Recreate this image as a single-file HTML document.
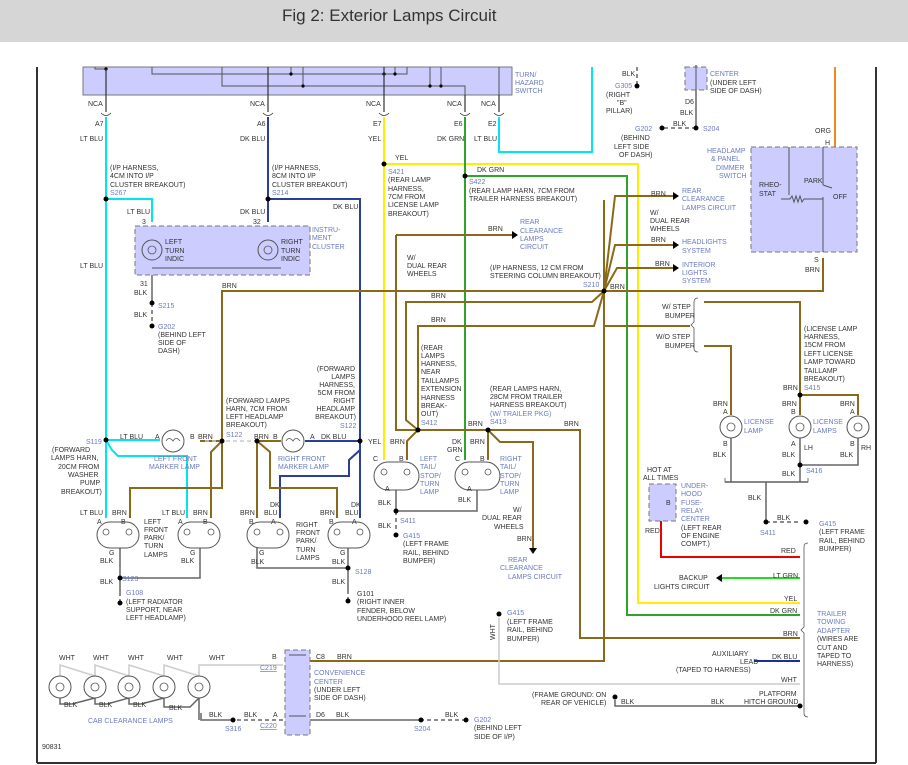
<!DOCTYPE html>
<html><head><meta charset="utf-8"><style>
html,body{margin:0;padding:0;background:#fff}
svg{display:block}
text{font-family:"Liberation Sans",sans-serif;font-size:7px;fill:#333}
.b{fill:#6a7bc0}
.u{fill:#6a7bc0;text-decoration:underline}
.r{text-anchor:end}
</style></head><body>
<svg width="908" height="765" viewBox="0 0 908 765" xmlns="http://www.w3.org/2000/svg">
<rect x="0" y="0" width="908" height="42" fill="#d6d6d6"/>
<text x="282" y="21" style="font-size:17px;fill:#333">Fig 2: Exterior Lamps Circuit</text>
<g stroke="#333" stroke-width="2" fill="none">
<line x1="37" y1="67" x2="37" y2="763"/>
<line x1="37" y1="763" x2="876" y2="763"/>
<line x1="876" y1="67" x2="876" y2="763"/>
</g>
<rect x="83" y="67" width="429" height="28" fill="#ccccff" stroke="#777" stroke-width="1"/>
<g stroke="#555" stroke-width="1" fill="none">
<polyline points="95,67 95,69 106,69"/>
<polyline points="152,67 152,74 407,74 407,67"/>
<polyline points="222,67 222,86 465,86 465,95"/>
<line x1="291" y1="67" x2="291" y2="74"/><line x1="303" y1="67" x2="303" y2="86"/>
<line x1="430" y1="67" x2="430" y2="86"/><line x1="441" y1="67" x2="441" y2="86"/>
<line x1="395" y1="67" x2="395" y2="74"/>
<line x1="499" y1="67" x2="499" y2="95"/>
</g>
<g fill="#000"><circle cx="106" cy="69" r="1.6"/><circle cx="291" cy="74" r="1.6"/><circle cx="384" cy="74" r="1.6"/><circle cx="395" cy="74" r="1.6"/><circle cx="303" cy="86" r="1.6"/><circle cx="430" cy="86" r="1.6"/><circle cx="441" cy="86" r="1.6"/></g>
<text x="515" y="77" class="b">TURN/</text><text x="515" y="85" class="b">HAZARD</text><text x="515" y="93" class="b">SWITCH</text>
<g stroke="#333" stroke-width="1.2">
<line x1="106" y1="69" x2="106" y2="112"/><line x1="268" y1="67" x2="268" y2="112"/><line x1="384" y1="67" x2="384" y2="112"/><line x1="465" y1="95" x2="465" y2="112"/><line x1="499" y1="95" x2="499" y2="112"/>
</g>
<g>
<text x="88" y="106">NCA</text><text x="250" y="106">NCA</text><text x="366" y="106">NCA</text><text x="447" y="106">NCA</text><text x="481" y="106">NCA</text>
<text x="95" y="126">A7</text><text x="257" y="126">A6</text><text x="373" y="126">E7</text><text x="454" y="126">E6</text><text x="488" y="126">E2</text>
<text x="80" y="141">LT BLU</text><text x="240" y="141">DK BLU</text><text x="368" y="141">YEL</text><text x="437" y="141">DK GRN</text><text x="474" y="141">LT BLU</text>
</g>
<g fill="none" stroke="#333" stroke-width="0.8">
<path d="M101,113 Q106,118 111,113"/><path d="M263,113 Q268,118 273,113"/><path d="M379,113 Q384,118 389,113"/><path d="M460,113 Q465,118 470,113"/><path d="M494,113 Q499,118 504,113"/>
</g>
<g fill="none" stroke-width="2">
<polyline stroke="#00e5ee" points="106,117 106,440 112,450 118,456 187,456 187,518"/>
<polyline stroke="#00e5ee" points="106,199 152,199 152,222"/>
<polyline stroke="#00e5ee" points="106,440 160,440"/>
<polyline stroke="#00e5ee" points="106,440 106,518"/>
<polyline stroke="#00e5ee" points="499,117 499,152 592,152 592,67"/>
<polyline stroke="#2a3f9a" points="268,117 268,222"/>
<polyline stroke="#2a3f9a" points="268,199 360,199 360,518"/>
<polyline stroke="#2a3f9a" points="305,441 360,441"/>
<polyline stroke="#2a3f9a" points="360,441 360,450 349,460 349,476 280,476 280,518"/>
<polyline stroke="#ffee00" points="384,117 384,460"/>
<polyline stroke="#ffee00" points="384,164 638,164 638,603 800,603"/>
<polyline stroke="#2da52d" points="465,117 465,460"/>
<polyline stroke="#2da52d" points="465,176 627,176 627,615 800,615"/>
<polyline stroke="#e00" points="661,502 661,557 800,557"/>
<polyline stroke="#22dd22" points="720,578 800,578"/>
<polyline stroke="#1a2f9a" points="754,661 800,661"/>
<polyline stroke="#f08a20" points="835,67 835,147"/>
</g>
<g fill="none" stroke="#8a6a1a" stroke-width="2">
<polyline points="823,258 823,291 222,291 222,488 130,488 130,518"/>
<polyline points="222,441 211,452 211,518"/>
<polyline points="200,441 222,441"/>
<polyline points="604,291 592,302 406,302 406,420 418,430"/>
<polyline points="604,291 594,326 418,326 418,430"/>
<polyline points="690,326 604,326"/>
<polyline points="604,200 604,661 310,661"/>
<polyline points="604,291 615,196 673,196"/>
<polyline points="604,291 615,245 673,245"/>
<polyline points="604,291 617,268 673,268"/>
<polyline points="396,235 512,235"/>
<polyline points="396,235 396,430 580,430 580,638 800,638"/>
<polyline points="418,430 407,441 407,460"/>
<polyline points="488,430 488,460"/>
<polyline points="488,430 500,442 533,442 533,548"/>
<polyline points="704,302 800,302 800,415"/>
<polyline points="704,346 731,346 731,415"/>
<polyline points="800,395 858,395 858,415"/>
<polyline points="257,441 257,518"/>
<polyline points="257,441 270,452 270,488 337,488 337,518"/>
<polyline points="257,441 281,441"/>
</g>
<g fill="#000">
<polygon points="673,192 679,196 673,200"/><polygon points="673,241 679,245 673,249"/><polygon points="673,264 679,268 673,272"/>
<polygon points="512,231 518,235 512,239"/><polygon points="529,548 533,554 537,548"/>
<polygon points="716,578 722,574 722,582"/>
</g>
<g fill="none" stroke="#666" stroke-width="1.5">
<polyline points="152,265 152,303"/>
<polyline points="120,548 120,578 200,578 200,548"/>
<polyline points="257,548 257,568 348,568 348,548"/>
<polyline points="348,568 348,590"/>
<polyline points="120,578 120,592"/>
<polyline points="396,490 396,511 477,511 477,490"/>
<polyline points="731,438 731,482"/><polyline points="858,438 858,465 800,465 800,438"/>
<polyline points="800,465 800,482"/>
<polyline points="725,482 808,482"/>
<polyline points="766,482 766,522"/>
<polyline points="615,700 615,706 800,706"/>
<polyline points="201,713 201,720 230,720"/>
<polyline points="310,720 420,720"/>
<polyline points="696,65 696,122 696,128"/>
</g>
<g fill="none" stroke="#666" stroke-width="1.5" stroke-dasharray="4,3">
<line x1="152" y1="303" x2="152" y2="322"/>
<line x1="120" y1="592" x2="120" y2="603"/>
<line x1="348" y1="590" x2="348" y2="601"/>
<line x1="396" y1="511" x2="396" y2="530"/>
<line x1="766" y1="522" x2="800" y2="522"/>
<line x1="230" y1="720" x2="283" y2="720"/>
<line x1="420" y1="720" x2="465" y2="720"/>
<line x1="696" y1="128" x2="663" y2="128"/>
<line x1="637" y1="67" x2="637" y2="85"/>
<line x1="205" y1="441" x2="255" y2="441" stroke="#ccc"/>
</g>
<g fill="none" stroke="#ccc" stroke-width="1.5">
<polyline points="499,618 499,684 800,684"/>
<polyline points="60,676 60,665 95,676"/><polyline points="95,676 95,665 129,676"/><polyline points="129,676 129,665 164,676"/><polyline points="164,676 164,665 199,676"/><polyline points="199,676 199,665 283,665"/>
</g>
<g fill="none" stroke="#666" stroke-width="1.5">
<polyline points="60,698 60,704 72,704 95,698"/><polyline points="95,698 95,704 107,704 129,698"/><polyline points="129,698 129,704 141,704 164,698"/><polyline points="164,698 164,707 190,707 199,698"/><polyline points="199,698 199,720"/>
</g>
<g fill="#000">
<circle cx="106" cy="199" r="2.5"/><circle cx="268" cy="199" r="2.5"/><circle cx="384" cy="164" r="2.5"/><circle cx="465" cy="176" r="2.5"/>
<circle cx="152" cy="303" r="2.5"/><circle cx="604" cy="291" r="2.5"/><circle cx="106" cy="440" r="2.5"/><circle cx="222" cy="441" r="2.5"/><circle cx="257" cy="441" r="2.5"/><circle cx="360" cy="441" r="2.5"/>
<circle cx="418" cy="430" r="2.5"/><circle cx="488" cy="430" r="2.5"/><circle cx="396" cy="511" r="2.5"/><circle cx="120" cy="578" r="2.5"/><circle cx="348" cy="568" r="2.5"/>
<circle cx="800" cy="395" r="2.5"/><circle cx="800" cy="465" r="2.5"/><circle cx="766" cy="522" r="2.5"/><circle cx="661" cy="502" r="2.5"/>
<circle cx="696" cy="128" r="2.5"/><circle cx="233" cy="720" r="2.5"/><circle cx="421" cy="720" r="2.5"/><circle cx="800" cy="706" r="2.5"/>
<circle cx="152" cy="326" r="2.5"/><circle cx="120" cy="603" r="2.5"/><circle cx="348" cy="601" r="2.5"/><circle cx="396" cy="535" r="2.5"/><circle cx="499" cy="614" r="2.5"/><circle cx="615" cy="697" r="2.5"/><circle cx="637" cy="86" r="2.5"/><circle cx="662" cy="128" r="2.5"/><circle cx="806" cy="522" r="2.5"/><circle cx="466" cy="720" r="2.5"/>
</g>
<rect x="135" y="226" width="175" height="49" fill="#ccccff" stroke="#777" stroke-dasharray="5,3"/>
<rect x="751" y="147" width="106" height="105" fill="#ccccff" stroke="#777" stroke-dasharray="5,3"/>
<rect x="649" y="484" width="27" height="37" fill="#ccccff" stroke="#777" stroke-dasharray="5,3"/>
<rect x="285" y="650" width="25" height="85" fill="#ccccff" stroke="#777" stroke-dasharray="5,3"/>
<rect x="685" y="67" width="22" height="23" fill="#ccccff" stroke="#777" stroke-dasharray="5,3"/>
<g stroke="#555" fill="none">
<line x1="152" y1="268" x2="281" y2="268"/><line x1="789" y1="147" x2="789" y2="195"/><line x1="823" y1="147" x2="823" y2="185"/><line x1="823" y1="185" x2="832" y2="188"/><line x1="823" y1="197" x2="823" y2="252"/><polyline points="781,199 790,199 792,196 794,202 796,196 798,202 800,196 802,202 804,199 823,199"/>
<line x1="289" y1="655" x2="306" y2="655"/><line x1="289" y1="716" x2="306" y2="716"/><line x1="696" y1="67" x2="696" y2="90"/>
</g>
<g fill="#fff" stroke="#555" stroke-width="1">
<circle cx="152" cy="250" r="10" fill="none"/><circle cx="268" cy="250" r="10" fill="none"/>
<circle cx="173" cy="441" r="11"/><circle cx="293" cy="441" r="11"/>
<rect x="97" y="522" width="42" height="26" rx="13"/><rect x="178" y="522" width="42" height="26" rx="13"/><rect x="247" y="522" width="42" height="26" rx="13"/><rect x="328" y="522" width="42" height="26" rx="13"/>
<rect x="374" y="462" width="45" height="28" rx="14"/><rect x="455" y="462" width="45" height="28" rx="14"/>
<circle cx="731" cy="427" r="11"/><circle cx="800" cy="427" r="11"/><circle cx="858" cy="427" r="11"/>
<circle cx="60" cy="687" r="11"/><circle cx="95" cy="687" r="11"/><circle cx="129" cy="687" r="11"/><circle cx="164" cy="687" r="11"/><circle cx="199" cy="687" r="11"/>
</g>
<g fill="none" stroke="#555" stroke-width="0.8">
<circle cx="152" cy="250" r="4"/><circle cx="268" cy="250" r="4"/><circle cx="731" cy="427" r="4"/><circle cx="800" cy="427" r="4"/><circle cx="858" cy="427" r="4"/>
<circle cx="60" cy="687" r="4"/><circle cx="95" cy="687" r="4"/><circle cx="129" cy="687" r="4"/><circle cx="164" cy="687" r="4"/><circle cx="199" cy="687" r="4"/>
<circle cx="106" cy="532" r="3"/><circle cx="129" cy="532" r="3"/><circle cx="187" cy="532" r="3"/><circle cx="211" cy="532" r="3"/><circle cx="257" cy="532" r="3"/><circle cx="280" cy="532" r="3"/><circle cx="337" cy="532" r="3"/><circle cx="360" cy="532" r="3"/>
<circle cx="384" cy="472" r="3"/><circle cx="407" cy="472" r="3"/><circle cx="465" cy="472" r="3"/><circle cx="488" cy="472" r="3"/>
<path d="M166,441 q3,-5 7,0 q3,-5 7,0"/><path d="M286,441 q3,-5 7,0 q3,-5 7,0"/>
<path d="M808,543 q-4,0 -4,4 v80 l-3,3 l3,3 v80 q0,4 4,4"/>
<path d="M698,298 q-4,0 -4,4 v20 l-3,3 l3,3 v20 q0,4 4,4"/>
<path d="M725,478 v4 h83 v-4"/>
</g>
<g>
<text x="110" y="170">(I/P HARNESS,</text><text x="110" y="178">4CM INTO I/P</text><text x="110" y="187">CLUSTER BREAKOUT)</text><text x="110" y="195" class="b">S267</text>
<text x="272" y="170">(I/P HARNESS,</text><text x="272" y="178">8CM INTO I/P</text><text x="272" y="187">CLUSTER BREAKOUT)</text><text x="272" y="195" class="b">S214</text>
<text x="333" y="209">DK BLU</text>
<text x="127" y="214">LT BLU</text><text x="240" y="214">DK BLU</text><text x="142" y="224">3</text><text x="253" y="224">32</text>
<text x="165" y="244">LEFT</text><text x="165" y="253">TURN</text><text x="165" y="261">INDIC</text>
<text x="281" y="244">RIGHT</text><text x="281" y="253">TURN</text><text x="281" y="261">INDIC</text>
<text x="312" y="232" class="b">INSTRU-</text><text x="312" y="240" class="b">MENT</text><text x="312" y="249" class="b">CLUSTER</text>
<text x="80" y="268">LT BLU</text><text x="140" y="286">31</text><text x="134" y="295">BLK</text><text x="134" y="317">BLK</text>
<text x="158" y="308" class="b">S215</text><text x="158" y="329" class="b">G202</text><text x="158" y="337">(BEHIND LEFT</text><text x="158" y="345">SIDE OF</text><text x="158" y="353">DASH)</text>
<text x="222" y="288">BRN</text>
<text x="395" y="160">YEL</text><text x="388" y="174" class="b">S421</text><text x="388" y="182">(REAR LAMP</text><text x="388" y="191">HARNESS,</text><text x="388" y="199">7CM FROM</text><text x="388" y="207">LICENSE LAMP</text><text x="388" y="216">BREAKOUT)</text>
<text x="477" y="172">DK GRN</text><text x="469" y="184" class="b">S422</text><text x="469" y="193">(REAR LAMP HARN, 7CM FROM</text><text x="469" y="201">TRAILER HARNESS BREAKOUT)</text>
<text x="488" y="231">BRN</text><text x="520" y="224" class="b">REAR</text><text x="520" y="233" class="b">CLEARANCE</text><text x="520" y="241" class="b">LAMPS</text><text x="520" y="249" class="b">CIRCUIT</text>
<text x="407" y="260">W/</text><text x="407" y="268">DUAL REAR</text><text x="407" y="276">WHEELS</text>
<text x="490" y="270">(I/P HARNESS, 12 CM FROM</text><text x="490" y="278">STEERING COLUMN BREAKOUT)</text><text x="583" y="287" class="b">S210</text><text x="610" y="289">BRN</text>
<text x="431" y="298">BRN</text><text x="431" y="322">BRN</text>
<text x="651" y="196">BRN</text><text x="682" y="193" class="b">REAR</text><text x="682" y="201" class="b">CLEARANCE</text><text x="682" y="210" class="b">LAMPS CIRCUIT</text>
<text x="650" y="215">W/</text><text x="650" y="223">DUAL REAR</text><text x="650" y="231">WHEELS</text>
<text x="651" y="242">BRN</text><text x="682" y="244" class="b">HEADLIGHTS</text><text x="682" y="253" class="b">SYSTEM</text>
<text x="655" y="266">BRN</text><text x="682" y="267" class="b">INTERIOR</text><text x="682" y="275" class="b">LIGHTS</text><text x="682" y="283" class="b">SYSTEM</text>
<text x="622" y="76">BLK</text><text x="615" y="88" class="b">G305</text><text x="606" y="97">(RIGHT</text><text x="617" y="105">"B"</text><text x="606" y="113">PILLAR)</text>
<text x="710" y="76" class="b">CENTER</text><text x="710" y="85">(UNDER LEFT</text><text x="710" y="93">SIDE OF DASH)</text>
<text x="685" y="104">D6</text><text x="680" y="115">BLK</text><text x="673" y="126">BLK</text><text x="703" y="131" class="b">S204</text>
<text x="635" y="131" class="b">G202</text><text x="621" y="140">(BEHIND</text><text x="614" y="149">LEFT SIDE</text><text x="619" y="157">OF DASH)</text>
<text x="815" y="133">ORG</text><text x="825" y="145">H</text>
<text x="707" y="153" class="b">HEADLAMP</text><text x="711" y="161" class="b">&amp; PANEL</text><text x="716" y="170" class="b">DIMMER</text><text x="719" y="178" class="b">SWITCH</text>
<text x="759" y="187">RHEO-</text><text x="759" y="196">STAT</text><text x="804" y="183">PARK</text><text x="833" y="199">OFF</text>
<text x="814" y="262">S</text><text x="805" y="272">BRN</text>
<text x="662" y="309">W/ STEP</text><text x="665" y="318">BUMPER</text><text x="656" y="339">W/O STEP</text><text x="665" y="348">BUMPER</text>
<text x="804" y="331">(LICENSE LAMP</text><text x="804" y="339">HARNESS,</text><text x="804" y="347">15CM FROM</text><text x="804" y="356">LEFT LICENSE</text><text x="804" y="364">LAMP TOWARD</text><text x="804" y="373">TAILLAMP</text><text x="804" y="381">BREAKOUT)</text><text x="804" y="390" class="b">S415</text><text x="783" y="390">BRN</text>
<text x="713" y="406">BRN</text><text x="723" y="414">A</text><text x="744" y="424" class="b">LICENSE</text><text x="744" y="433" class="b">LAMP</text><text x="723" y="446">B</text><text x="713" y="457">BLK</text>
<text x="782" y="406">BRN</text><text x="791" y="414">B</text><text x="813" y="424" class="b">LICENSE</text><text x="813" y="433" class="b">LAMPS</text><text x="791" y="446">A</text><text x="804" y="450">LH</text><text x="782" y="457">BLK</text>
<text x="840" y="406">BRN</text><text x="850" y="414">A</text><text x="850" y="446">B</text><text x="861" y="450">RH</text><text x="840" y="457">BLK</text>
<text x="782" y="476">BLK</text><text x="806" y="473" class="b">S416</text><text x="748" y="500">BLK</text>
<text x="777" y="520">BLK</text><text x="760" y="535" class="b">S411</text>
<text x="819" y="526" class="b">G415</text><text x="819" y="534">(LEFT FRAME</text><text x="819" y="543">RAIL, BEHIND</text><text x="819" y="551">BUMPER)</text>
<text x="647" y="472">HOT AT</text><text x="643" y="480">ALL TIMES</text><text x="666" y="505">B</text>
<text x="681" y="488" class="b">UNDER-</text><text x="681" y="496" class="b">HOOD</text><text x="681" y="505" class="b">FUSE-</text><text x="681" y="513" class="b">RELAY</text><text x="681" y="521" class="b">CENTER</text><text x="681" y="530">(LEFT REAR</text><text x="681" y="538">OF ENGINE</text><text x="681" y="546">COMPT.)</text>
<text x="645" y="533">RED</text><text x="781" y="553">RED</text><text x="773" y="578">LT GRN</text><text x="679" y="580">BACKUP</text><text x="654" y="589">LIGHTS CIRCUIT</text>
<text x="784" y="601">YEL</text><text x="770" y="613">DK GRN</text><text x="783" y="636">BRN</text>
<text x="817" y="616" class="b">TRAILER</text><text x="817" y="624" class="b">TOWING</text><text x="817" y="633" class="b">ADAPTER</text><text x="817" y="641">(WIRES ARE</text><text x="817" y="650">CUT AND</text><text x="817" y="658">TAPED TO</text><text x="817" y="666">HARNESS)</text>
<text x="712" y="656">AUXILIARY</text><text x="740" y="664">LEAD</text><text x="676" y="672">(TAPED TO HARNESS)</text><text x="772" y="659">DK BLU</text><text x="781" y="682">WHT</text>
<text x="532" y="697">(FRAME GROUND: ON</text><text x="541" y="705">REAR OF VEHICLE)</text><text x="621" y="704">BLK</text><text x="711" y="704">BLK</text><text x="759" y="696">PLATFORM</text><text x="744" y="704">HITCH GROUND</text>
<text x="507" y="615" class="b">G415</text><text x="507" y="624">(LEFT FRAME</text><text x="507" y="632">RAIL, BEHIND</text><text x="507" y="641">BUMPER)</text>
<text x="495" y="640" transform="rotate(-90 495 640)">WHT</text>
<text x="355" y="371" class="r">(FORWARD</text><text x="355" y="379" class="r">LAMPS</text><text x="355" y="387" class="r">HARNESS,</text><text x="355" y="395" class="r">5CM FROM</text>
<text x="355" y="403" class="r">RIGHT</text><text x="355" y="411" class="r">HEADLAMP</text><text x="356" y="419" class="r">BREAKOUT)</text><text x="340" y="428" class="b">S122</text>
<text x="226" y="403">(FORWARD LAMPS</text><text x="226" y="411">HARN, 7CM FROM</text><text x="226" y="419">LEFT HEADLAMP</text><text x="226" y="427">BREAKOUT)</text><text x="226" y="437" class="b">S122</text>
<text x="421" y="350">(REAR</text><text x="421" y="358">LAMPS</text><text x="421" y="366">HARNESS,</text><text x="421" y="374">NEAR</text><text x="421" y="383">TAILLAMPS</text><text x="421" y="391">EXTENSION</text><text x="421" y="400">HARNESS</text><text x="421" y="408">BREAK-</text><text x="421" y="416">OUT)</text><text x="421" y="425" class="b">S412</text>
<text x="490" y="391">(REAR LAMPS HARN,</text><text x="490" y="399">28CM FROM TRAILER</text><text x="490" y="407">HARNESS BREAKOUT)</text><text x="490" y="416" class="b">(W/ TRAILER PKG)</text><text x="490" y="424" class="b">S413</text>
<text x="468" y="426">BRN</text><text x="564" y="426">BRN</text>
<text x="86" y="444" class="b">S119</text><text x="52" y="452">(FORWARD</text><text x="51" y="460">LAMPS HARN,</text><text x="58" y="469">20CM FROM</text><text x="68" y="477">WASHER</text><text x="80" y="485">PUMP</text><text x="61" y="494">BREAKOUT)</text>
<text x="120" y="439">LT BLU</text><text x="155" y="439">A</text><text x="190" y="439">B</text><text x="198" y="439">BRN</text>
<text x="154" y="461" class="b">LEFT FRONT</text><text x="149" y="469" class="b">MARKER LAMP</text>
<text x="254" y="439">BRN</text><text x="273" y="439">B</text><text x="310" y="439">A</text><text x="321" y="439">DK BLU</text><text x="368" y="444">YEL</text><text x="390" y="444">BRN</text>
<text x="278" y="461" class="b">RIGHT FRONT</text><text x="278" y="469" class="b">MARKER LAMP</text>
<text x="80" y="515">LT BLU</text><text x="112" y="515">BRN</text><text x="97" y="524">A</text><text x="121" y="524">B</text>
<text x="144" y="524">LEFT</text><text x="144" y="532">FRONT</text><text x="144" y="540">PARK/</text><text x="144" y="548">TURN</text><text x="144" y="557">LAMPS</text>
<text x="162" y="515">LT BLU</text><text x="193" y="515">BRN</text><text x="178" y="524">A</text><text x="203" y="524">B</text>
<text x="109" y="555">G</text><text x="100" y="563">BLK</text><text x="190" y="555">G</text><text x="181" y="563">BLK</text>
<text x="100" y="584">BLK</text><text x="122" y="581" class="b">S123</text><text x="126" y="595" class="b">G108</text><text x="126" y="604">(LEFT RADIATOR</text><text x="126" y="612">SUPPORT, NEAR</text><text x="126" y="620">LEFT HEADLAMP)</text>
<text x="240" y="515">BRN</text><text x="249" y="524">B</text><text x="270" y="507">DK</text><text x="264" y="515">BLU</text><text x="271" y="524">A</text>
<text x="296" y="527">RIGHT</text><text x="296" y="535">FRONT</text><text x="296" y="543">PARK/</text><text x="296" y="552">TURN</text><text x="296" y="560">LAMPS</text>
<text x="320" y="515">BRN</text><text x="329" y="524">B</text><text x="351" y="507">DK</text><text x="345" y="515">BLU</text><text x="352" y="524">A</text>
<text x="259" y="555">G</text><text x="251" y="564">BLK</text><text x="340" y="555">G</text><text x="332" y="564">BLK</text>
<text x="332" y="584">BLK</text><text x="355" y="574" class="b">S128</text><text x="357" y="596">G101</text><text x="357" y="604">(RIGHT INNER</text><text x="357" y="613">FENDER, BELOW</text><text x="357" y="621">UNDERHOOD REEL LAMP)</text>
<text x="373" y="461">C</text><text x="399" y="461">B</text><text x="420" y="461" class="b">LEFT</text><text x="420" y="469" class="b">TAIL/</text><text x="420" y="478" class="b">STOP/</text><text x="420" y="486" class="b">TURN</text><text x="420" y="494" class="b">LAMP</text>
<text x="385" y="491">A</text><text x="378" y="505">BLK</text><text x="378" y="528">BLK</text><text x="400" y="523" class="b">S411</text>
<text x="403" y="538" class="b">G415</text><text x="403" y="546">(LEFT FRAME</text><text x="403" y="555">RAIL, BEHIND</text><text x="403" y="563">BUMPER)</text>
<text x="452" y="444">DK</text><text x="447" y="452">GRN</text><text x="470" y="444">BRN</text><text x="455" y="461">C</text><text x="480" y="461">B</text>
<text x="500" y="461" class="b">RIGHT</text><text x="500" y="469" class="b">TAIL/</text><text x="500" y="478" class="b">STOP/</text><text x="500" y="486" class="b">TURN</text><text x="500" y="494" class="b">LAMP</text>
<text x="467" y="491">A</text><text x="458" y="502">BLK</text>
<text x="513" y="512">W/</text><text x="482" y="520">DUAL REAR</text><text x="494" y="529">WHEELS</text><text x="517" y="541">BRN</text>
<text x="508" y="562" class="b">REAR</text><text x="500" y="570" class="b">CLEARANCE</text><text x="508" y="579" class="b">LAMPS CIRCUIT</text>
<text x="59" y="660">WHT</text><text x="93" y="660">WHT</text><text x="128" y="660">WHT</text><text x="167" y="660">WHT</text><text x="209" y="660">WHT</text>
<text x="64" y="707">BLK</text><text x="99" y="707">BLK</text><text x="133" y="707">BLK</text><text x="169" y="710">BLK</text><text x="88" y="723" class="b">CAB CLEARANCE LAMPS</text>
<text x="209" y="717">BLK</text><text x="244" y="717">BLK</text><text x="225" y="731" class="b">S316</text>
<text x="272" y="659">B</text><text x="260" y="670" class="u">C219</text><text x="273" y="717">A</text><text x="260" y="728" class="u">C220</text>
<text x="316" y="659">C8</text><text x="337" y="659">BRN</text><text x="314" y="675" class="b">CONVENIENCE</text><text x="314" y="684" class="b">CENTER</text><text x="314" y="692">(UNDER LEFT</text><text x="314" y="700">SIDE OF DASH)</text>
<text x="316" y="717">D6</text><text x="336" y="717">BLK</text><text x="414" y="731" class="b">S204</text><text x="445" y="717">BLK</text>
<text x="474" y="722" class="b">G202</text><text x="474" y="730">(BEHIND LEFT</text><text x="474" y="739">SIDE OF I/P)</text>
<text x="42" y="749">90831</text>
</g>
</svg>
</body></html>
